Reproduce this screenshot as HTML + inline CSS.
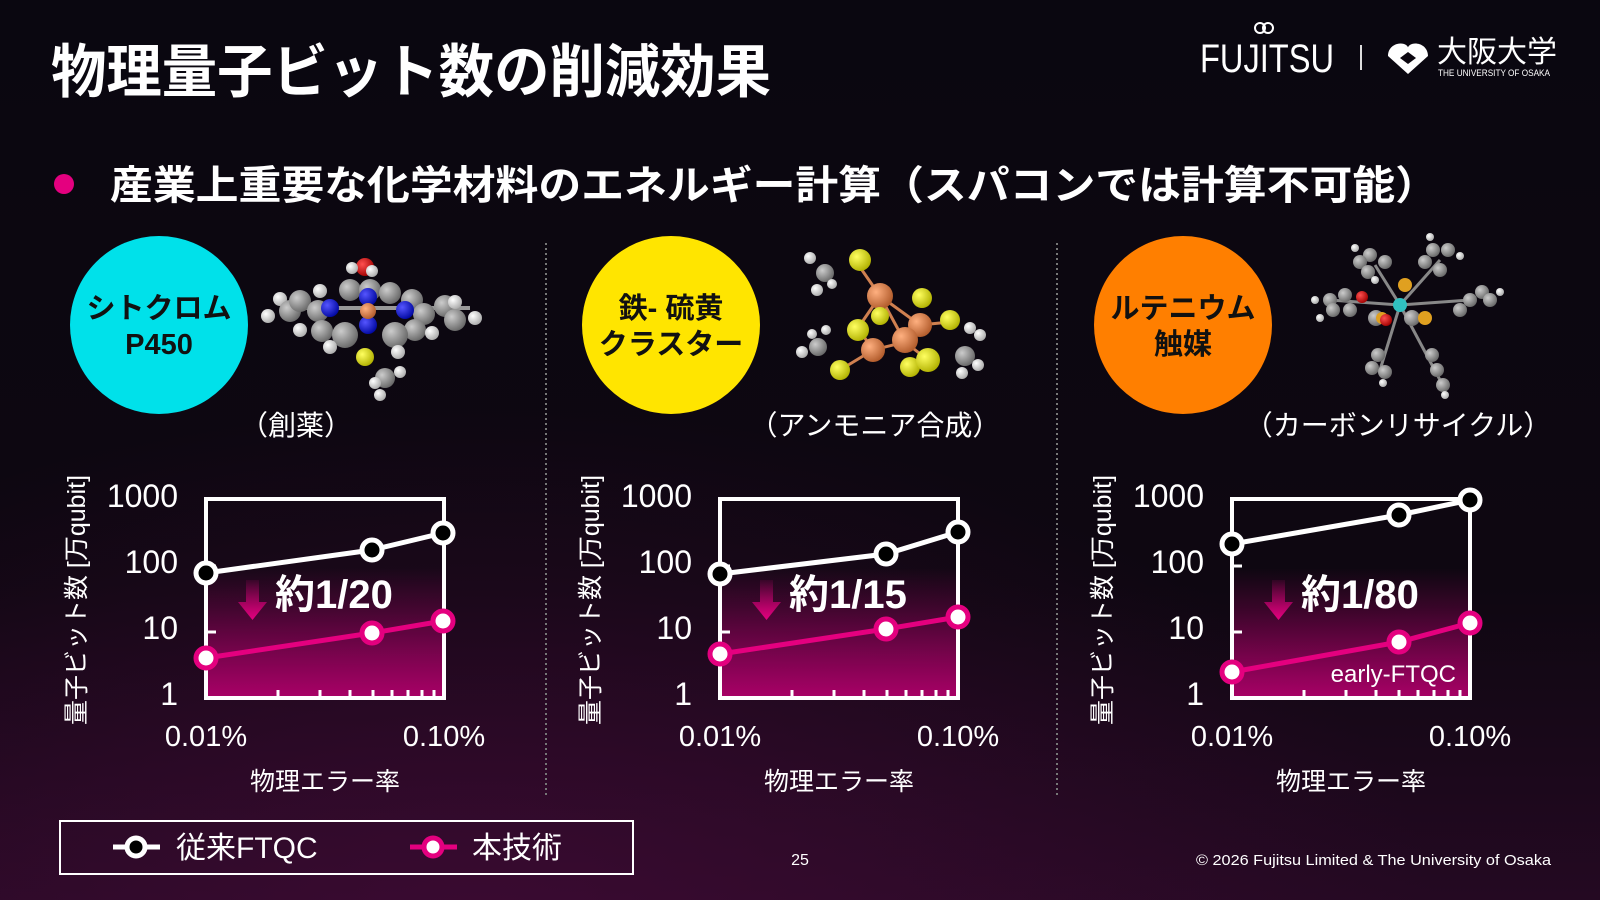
<!DOCTYPE html>
<html><head><meta charset="utf-8"><style>
html,body{margin:0;padding:0;width:1600px;height:900px;overflow:hidden;background:#0c0710}
svg{display:block}
text{font-family:"Liberation Sans","Noto Sans CJK JP",sans-serif}
</style></head><body>
<svg width="1600" height="900" viewBox="0 0 1600 900" xmlns="http://www.w3.org/2000/svg">
<defs>
<linearGradient id="bg" x1="0" y1="0" x2="0" y2="1">
<stop offset="0" stop-color="#0a0710"/><stop offset="0.65" stop-color="#0e0711"/><stop offset="1" stop-color="#240922"/>
</linearGradient>
<radialGradient id="glow" cx="0.3" cy="1.05" r="0.6">
<stop offset="0" stop-color="#4a0b3c" stop-opacity="0.6"/><stop offset="1" stop-color="#4a0b3c" stop-opacity="0"/>
</radialGradient>
<linearGradient id="fill" x1="0" y1="0" x2="0" y2="1">
<stop offset="0" stop-color="#b0006a" stop-opacity="0"/><stop offset="0.3" stop-color="#b0006a" stop-opacity="0.25"/><stop offset="1" stop-color="#b0006a" stop-opacity="0.95"/>
</linearGradient>
<linearGradient id="arr" x1="0" y1="0" x2="0" y2="1">
<stop offset="0" stop-color="#e4007f" stop-opacity="0.1"/><stop offset="1" stop-color="#e4007f"/>
</linearGradient>
<radialGradient id="gC" cx="0.35" cy="0.35" r="0.7"><stop offset="0" stop-color="#ccc"/><stop offset="1" stop-color="#666"/></radialGradient>
<radialGradient id="gH" cx="0.35" cy="0.35" r="0.7"><stop offset="0" stop-color="#fff"/><stop offset="1" stop-color="#aaa"/></radialGradient>
<radialGradient id="gN" cx="0.35" cy="0.35" r="0.7"><stop offset="0" stop-color="#55f"/><stop offset="1" stop-color="#0008a0"/></radialGradient>
<radialGradient id="gS" cx="0.35" cy="0.35" r="0.7"><stop offset="0" stop-color="#ffff60"/><stop offset="1" stop-color="#b0b000"/></radialGradient>
<radialGradient id="gF" cx="0.35" cy="0.35" r="0.7"><stop offset="0" stop-color="#ffb080"/><stop offset="1" stop-color="#b05a2a"/></radialGradient>
<radialGradient id="gO" cx="0.35" cy="0.35" r="0.7"><stop offset="0" stop-color="#ff5050"/><stop offset="1" stop-color="#a00000"/></radialGradient>
</defs>
<rect width="1600" height="900" fill="url(#bg)"/>
<rect width="1600" height="900" fill="url(#glow)"/>

<text x="51" y="92" font-size="58" font-weight="bold" fill="#fff" textLength="720" lengthAdjust="spacingAndGlyphs">物理量子ビット数の削減効果</text>
<text x="1200" y="72" font-size="40" fill="#fff" textLength="134" lengthAdjust="spacingAndGlyphs">FUJITSU</text>
<circle cx="1260" cy="28" r="5" fill="none" stroke="#fff" stroke-width="2"/><circle cx="1268" cy="28" r="5" fill="none" stroke="#fff" stroke-width="2"/>
<rect x="1360" y="45" width="2" height="25" fill="#ddd"/>
<path d="M1388 56 C1388 40 1412 40 1408 52 C1404 40 1428 40 1428 56 L1408 74 Z" fill="#fff"/>
<path d="M1400 58 L1408 52 L1416 58 L1408 64 Z" fill="#0c0710"/>
<text x="1437" y="62" font-size="30" fill="#fff">大阪大学</text>
<text x="1438" y="76" font-size="9" fill="#fff" textLength="112" lengthAdjust="spacingAndGlyphs">THE UNIVERSITY OF OSAKA</text>

<circle cx="64" cy="184" r="10" fill="#e4007f"/>
<text x="110" y="199" font-size="40" font-weight="bold" fill="#fff" textLength="1328" lengthAdjust="spacingAndGlyphs">産業上重要な化学材料のエネルギー計算（スパコンでは計算不可能）</text>

<line x1="546" y1="243" x2="546" y2="795" stroke="#777" stroke-width="2" stroke-dasharray="2,3"/>
<line x1="1057" y1="243" x2="1057" y2="795" stroke="#777" stroke-width="2" stroke-dasharray="2,3"/>

<circle cx="159" cy="325" r="89" fill="#00e1ea"/>
<text x="159" y="318" font-size="29" font-weight="bold" fill="#111" text-anchor="middle">シトクロム</text>
<text x="159" y="354" font-size="29" font-weight="bold" fill="#111" text-anchor="middle">P450</text>
<circle cx="671" cy="325" r="89" fill="#ffe500"/>
<text x="671" y="318" font-size="29" font-weight="bold" fill="#111" text-anchor="middle">鉄- 硫黄</text>
<text x="671" y="354" font-size="29" font-weight="bold" fill="#111" text-anchor="middle">クラスター</text>
<circle cx="1183" cy="325" r="89" fill="#ff7f00"/>
<text x="1183" y="318" font-size="29" font-weight="bold" fill="#111" text-anchor="middle">ルテニウム</text>
<text x="1183" y="354" font-size="29" font-weight="bold" fill="#111" text-anchor="middle">触媒</text>

<text x="296" y="435" font-size="28" fill="#fff" text-anchor="middle">（創薬）</text>
<text x="875" y="435" font-size="28" fill="#fff" text-anchor="middle">（アンモニア合成）</text>
<text x="1398" y="435" font-size="28" fill="#fff" text-anchor="middle">（カーボンリサイクル）</text>

<g>
<line x1="300" y1="308" x2="470" y2="308" stroke="#999" stroke-width="4"/>
<circle cx="268" cy="316" r="7" fill="url(#gH)"/><circle cx="280" cy="299" r="7" fill="url(#gH)"/>
<circle cx="290" cy="311" r="11" fill="url(#gC)"/><circle cx="300" cy="301" r="11" fill="url(#gC)"/>
<circle cx="318" cy="311" r="11" fill="url(#gC)"/><circle cx="322" cy="331" r="11" fill="url(#gC)"/>
<circle cx="300" cy="330" r="7" fill="url(#gH)"/><circle cx="320" cy="291" r="7" fill="url(#gH)"/>
<circle cx="350" cy="290" r="11" fill="url(#gC)"/><circle cx="370" cy="290" r="11" fill="url(#gC)"/>
<circle cx="390" cy="293" r="11" fill="url(#gC)"/><circle cx="412" cy="300" r="11" fill="url(#gC)"/>
<circle cx="424" cy="314" r="11" fill="url(#gC)"/><circle cx="415" cy="330" r="11" fill="url(#gC)"/>
<circle cx="445" cy="306" r="11" fill="url(#gC)"/><circle cx="455" cy="320" r="11" fill="url(#gC)"/>
<circle cx="475" cy="318" r="7" fill="url(#gH)"/><circle cx="455" cy="302" r="7" fill="url(#gH)"/>
<circle cx="432" cy="333" r="7" fill="url(#gH)"/>
<circle cx="345" cy="335" r="13" fill="url(#gC)"/><circle cx="395" cy="335" r="13" fill="url(#gC)"/>
<circle cx="330" cy="347" r="7" fill="url(#gH)"/><circle cx="398" cy="352" r="7" fill="url(#gH)"/>
<circle cx="330" cy="308" r="9" fill="url(#gN)"/><circle cx="405" cy="310" r="9" fill="url(#gN)"/>
<circle cx="368" cy="297" r="9" fill="url(#gN)"/><circle cx="368" cy="325" r="9" fill="url(#gN)"/>
<circle cx="368" cy="311" r="8" fill="url(#gF)"/>
<circle cx="365" cy="357" r="9" fill="url(#gS)"/>
<circle cx="385" cy="378" r="10" fill="url(#gC)"/>
<circle cx="375" cy="383" r="6" fill="url(#gH)"/><circle cx="400" cy="372" r="6" fill="url(#gH)"/><circle cx="380" cy="395" r="6" fill="url(#gH)"/>
<circle cx="365" cy="267" r="9" fill="url(#gO)"/><circle cx="352" cy="268" r="6" fill="url(#gH)"/><circle cx="372" cy="271" r="6" fill="url(#gH)"/>
</g>
<g stroke="#d08050" stroke-width="3">
<line x1="880" y1="296" x2="905" y2="342"/><line x1="880" y1="296" x2="858" y2="328"/><line x1="880" y1="296" x2="920" y2="325"/>
<line x1="905" y1="342" x2="873" y2="350"/><line x1="873" y1="350" x2="858" y2="328"/><line x1="920" y1="325" x2="905" y2="342"/>
<line x1="880" y1="296" x2="855" y2="260"/><line x1="873" y1="350" x2="840" y2="370"/><line x1="920" y1="325" x2="950" y2="322"/><line x1="905" y1="342" x2="928" y2="360"/>
</g>
<g>
<circle cx="860" cy="260" r="11" fill="url(#gS)"/><circle cx="825" cy="273" r="9" fill="url(#gC)"/>
<circle cx="810" cy="258" r="6" fill="url(#gH)"/><circle cx="817" cy="290" r="6" fill="url(#gH)"/><circle cx="832" cy="284" r="5" fill="url(#gH)"/>
<circle cx="880" cy="296" r="13" fill="url(#gF)"/><circle cx="922" cy="298" r="10" fill="url(#gS)"/>
<circle cx="880" cy="316" r="9" fill="url(#gS)"/><circle cx="920" cy="325" r="12" fill="url(#gF)"/>
<circle cx="858" cy="330" r="11" fill="url(#gS)"/><circle cx="905" cy="340" r="13" fill="url(#gF)"/>
<circle cx="873" cy="350" r="12" fill="url(#gF)"/><circle cx="950" cy="320" r="10" fill="url(#gS)"/>
<circle cx="840" cy="370" r="10" fill="url(#gS)"/><circle cx="910" cy="367" r="10" fill="url(#gS)"/><circle cx="928" cy="360" r="12" fill="url(#gS)"/>
<circle cx="818" cy="347" r="9" fill="url(#gC)"/><circle cx="802" cy="352" r="6" fill="url(#gH)"/><circle cx="812" cy="334" r="5" fill="url(#gH)"/><circle cx="826" cy="330" r="5" fill="url(#gH)"/>
<circle cx="965" cy="356" r="10" fill="url(#gC)"/><circle cx="978" cy="365" r="6" fill="url(#gH)"/><circle cx="962" cy="373" r="6" fill="url(#gH)"/><circle cx="980" cy="335" r="6" fill="url(#gH)"/><circle cx="970" cy="328" r="6" fill="url(#gH)"/>
</g>
<g>
<g stroke="#888" stroke-width="3"><line x1="1400" y1="305" x2="1330" y2="300"/><line x1="1400" y1="305" x2="1440" y2="260"/><line x1="1400" y1="305" x2="1470" y2="300"/><line x1="1400" y1="305" x2="1440" y2="380"/><line x1="1400" y1="305" x2="1380" y2="370"/><line x1="1400" y1="305" x2="1375" y2="265"/></g>
<circle cx="1370" cy="255" r="7" fill="url(#gC)"/><circle cx="1360" cy="262" r="7" fill="url(#gC)"/><circle cx="1385" cy="262" r="7" fill="url(#gC)"/><circle cx="1368" cy="272" r="7" fill="url(#gC)"/>
<circle cx="1355" cy="248" r="4" fill="url(#gH)"/><circle cx="1375" cy="280" r="4" fill="url(#gH)"/>
<circle cx="1433" cy="250" r="7" fill="url(#gC)"/><circle cx="1448" cy="250" r="7" fill="url(#gC)"/><circle cx="1425" cy="262" r="7" fill="url(#gC)"/><circle cx="1440" cy="270" r="7" fill="url(#gC)"/>
<circle cx="1430" cy="237" r="4" fill="url(#gH)"/><circle cx="1460" cy="256" r="4" fill="url(#gH)"/>
<circle cx="1330" cy="300" r="7" fill="url(#gC)"/><circle cx="1345" cy="295" r="7" fill="url(#gC)"/><circle cx="1333" cy="310" r="7" fill="url(#gC)"/><circle cx="1350" cy="310" r="7" fill="url(#gC)"/>
<circle cx="1315" cy="300" r="4" fill="url(#gH)"/><circle cx="1320" cy="318" r="4" fill="url(#gH)"/>
<circle cx="1470" cy="300" r="7" fill="url(#gC)"/><circle cx="1482" cy="292" r="7" fill="url(#gC)"/><circle cx="1460" cy="310" r="7" fill="url(#gC)"/><circle cx="1490" cy="300" r="7" fill="url(#gC)"/>
<circle cx="1500" cy="292" r="4" fill="url(#gH)"/>
<circle cx="1378" cy="355" r="7" fill="url(#gC)"/><circle cx="1372" cy="368" r="7" fill="url(#gC)"/><circle cx="1385" cy="372" r="7" fill="url(#gC)"/><circle cx="1383" cy="383" r="4" fill="url(#gH)"/>
<circle cx="1432" cy="355" r="7" fill="url(#gC)"/><circle cx="1437" cy="370" r="7" fill="url(#gC)"/><circle cx="1443" cy="385" r="7" fill="url(#gC)"/><circle cx="1445" cy="395" r="4" fill="url(#gH)"/>
<circle cx="1376" cy="318" r="8" fill="url(#gC)"/><circle cx="1412" cy="318" r="8" fill="url(#gC)"/>
<circle cx="1405" cy="285" r="7" fill="#e0a020"/><circle cx="1425" cy="318" r="7" fill="#e0a020"/><circle cx="1382" cy="318" r="6" fill="#e0a020"/>
<circle cx="1362" cy="297" r="6" fill="url(#gO)"/><circle cx="1386" cy="320" r="6" fill="url(#gO)"/>
<circle cx="1400" cy="305" r="7" fill="#30c0c0"/>
</g>

<g id="c1">
<text x="0" y="0" transform="translate(85,600) rotate(-90)" font-size="25" fill="#fff" text-anchor="middle">量子ビット数 [万qubit]</text>
<g font-size="32" fill="#fff" text-anchor="end"><text x="178" y="507">1000</text><text x="178" y="573">100</text><text x="178" y="639">10</text><text x="178" y="705">1</text></g>
<g font-size="29" fill="#fff" text-anchor="middle"><text x="206" y="746">0.01%</text><text x="444" y="746">0.10%</text><text x="325" y="790" font-size="25">物理エラー率</text></g>
<rect x="206" y="568" width="238" height="130" fill="url(#fill)"/>
<rect x="206" y="499" width="238" height="199" fill="none" stroke="#fff" stroke-width="4"/>
<g stroke="#fff" stroke-width="3"><line x1="206" y1="632" x2="216" y2="632"/><line x1="206" y1="566" x2="216" y2="566"/>
<line x1="278" y1="698" x2="278" y2="690"/><line x1="320" y1="698" x2="320" y2="690"/><line x1="350" y1="698" x2="350" y2="690"/><line x1="373" y1="698" x2="373" y2="690"/><line x1="392" y1="698" x2="392" y2="690"/><line x1="408" y1="698" x2="408" y2="690"/><line x1="422" y1="698" x2="422" y2="690"/><line x1="434" y1="698" x2="434" y2="690"/></g>
<path d="M246 580 h13 v22 h8 l-14.5 18 l-14.5 -18 h8 z" fill="url(#arr)"/>
<text x="275" y="608" font-size="40" font-weight="bold" fill="#fff">約1/20</text>
<polyline points="206,573 372,550 443,533" fill="none" stroke="#fff" stroke-width="5"/>
<polyline points="206,658 372,633 443,621" fill="none" stroke="#e4007f" stroke-width="5"/>
<g fill="#000" stroke="#fff" stroke-width="5"><circle cx="206" cy="573" r="10"/><circle cx="372" cy="550" r="10"/><circle cx="443" cy="533" r="10"/></g>
<g fill="#fff" stroke="#e4007f" stroke-width="5"><circle cx="206" cy="658" r="10"/><circle cx="372" cy="633" r="10"/><circle cx="443" cy="621" r="10"/></g>
</g>

<g id="c2" transform="translate(514,0)">
<text x="0" y="0" transform="translate(85,600) rotate(-90)" font-size="25" fill="#fff" text-anchor="middle">量子ビット数 [万qubit]</text>
<g font-size="32" fill="#fff" text-anchor="end"><text x="178" y="507">1000</text><text x="178" y="573">100</text><text x="178" y="639">10</text><text x="178" y="705">1</text></g>
<g font-size="29" fill="#fff" text-anchor="middle"><text x="206" y="746">0.01%</text><text x="444" y="746">0.10%</text><text x="325" y="790" font-size="25">物理エラー率</text></g>
<rect x="206" y="568" width="238" height="130" fill="url(#fill)"/>
<rect x="206" y="499" width="238" height="199" fill="none" stroke="#fff" stroke-width="4"/>
<g stroke="#fff" stroke-width="3"><line x1="206" y1="632" x2="216" y2="632"/><line x1="206" y1="566" x2="216" y2="566"/>
<line x1="278" y1="698" x2="278" y2="690"/><line x1="320" y1="698" x2="320" y2="690"/><line x1="350" y1="698" x2="350" y2="690"/><line x1="373" y1="698" x2="373" y2="690"/><line x1="392" y1="698" x2="392" y2="690"/><line x1="408" y1="698" x2="408" y2="690"/><line x1="422" y1="698" x2="422" y2="690"/><line x1="434" y1="698" x2="434" y2="690"/></g>
<path d="M246 580 h13 v22 h8 l-14.5 18 l-14.5 -18 h8 z" fill="url(#arr)"/>
<text x="275" y="608" font-size="40" font-weight="bold" fill="#fff">約1/15</text>
<polyline points="206,574 372,554 444,532" fill="none" stroke="#fff" stroke-width="5"/>
<polyline points="206,654 372,629 444,617" fill="none" stroke="#e4007f" stroke-width="5"/>
<g fill="#000" stroke="#fff" stroke-width="5"><circle cx="206" cy="574" r="10"/><circle cx="372" cy="554" r="10"/><circle cx="444" cy="532" r="10"/></g>
<g fill="#fff" stroke="#e4007f" stroke-width="5"><circle cx="206" cy="654" r="10"/><circle cx="372" cy="629" r="10"/><circle cx="444" cy="617" r="10"/></g>
</g>

<g id="c3" transform="translate(1026,0)">
<text x="0" y="0" transform="translate(85,600) rotate(-90)" font-size="25" fill="#fff" text-anchor="middle">量子ビット数 [万qubit]</text>
<g font-size="32" fill="#fff" text-anchor="end"><text x="178" y="507">1000</text><text x="178" y="573">100</text><text x="178" y="639">10</text><text x="178" y="705">1</text></g>
<g font-size="29" fill="#fff" text-anchor="middle"><text x="206" y="746">0.01%</text><text x="444" y="746">0.10%</text><text x="325" y="790" font-size="25">物理エラー率</text></g>
<rect x="206" y="568" width="238" height="130" fill="url(#fill)"/>
<rect x="206" y="499" width="238" height="199" fill="none" stroke="#fff" stroke-width="4"/>
<g stroke="#fff" stroke-width="3"><line x1="206" y1="632" x2="216" y2="632"/><line x1="206" y1="566" x2="216" y2="566"/>
<line x1="278" y1="698" x2="278" y2="690"/><line x1="320" y1="698" x2="320" y2="690"/><line x1="350" y1="698" x2="350" y2="690"/><line x1="373" y1="698" x2="373" y2="690"/><line x1="392" y1="698" x2="392" y2="690"/><line x1="408" y1="698" x2="408" y2="690"/><line x1="422" y1="698" x2="422" y2="690"/><line x1="434" y1="698" x2="434" y2="690"/></g>
<path d="M246 580 h13 v22 h8 l-14.5 18 l-14.5 -18 h8 z" fill="url(#arr)"/>
<text x="275" y="608" font-size="40" font-weight="bold" fill="#fff">約1/80</text>
<text x="430" y="682" font-size="24" fill="#fff" text-anchor="end">early-FTQC</text>
<polyline points="206,544 373,515 444,500" fill="none" stroke="#fff" stroke-width="5"/>
<polyline points="206,672 373,642 444,623" fill="none" stroke="#e4007f" stroke-width="5"/>
<g fill="#000" stroke="#fff" stroke-width="5"><circle cx="206" cy="544" r="10"/><circle cx="373" cy="515" r="10"/><circle cx="444" cy="500" r="10"/></g>
<g fill="#fff" stroke="#e4007f" stroke-width="5"><circle cx="206" cy="672" r="10"/><circle cx="373" cy="642" r="10"/><circle cx="444" cy="623" r="10"/></g>
</g>

<rect x="60" y="821" width="573" height="53" fill="none" stroke="#fff" stroke-width="2"/>
<line x1="113" y1="847" x2="160" y2="847" stroke="#fff" stroke-width="5"/>
<circle cx="136" cy="847" r="9" fill="#000" stroke="#fff" stroke-width="5"/>
<text x="176" y="858" font-size="30" fill="#fff">従来FTQC</text>
<line x1="410" y1="847" x2="457" y2="847" stroke="#e4007f" stroke-width="5"/>
<circle cx="433" cy="847" r="9" fill="#fff" stroke="#e4007f" stroke-width="5"/>
<text x="472" y="858" font-size="30" fill="#fff">本技術</text>

<text x="800" y="865" font-size="16" fill="#fff" text-anchor="middle">25</text>
<text x="1196" y="865" font-size="15" fill="#fff" textLength="355" lengthAdjust="spacingAndGlyphs">© 2026 Fujitsu Limited &amp; The University of Osaka</text>
</svg>
</body></html>
